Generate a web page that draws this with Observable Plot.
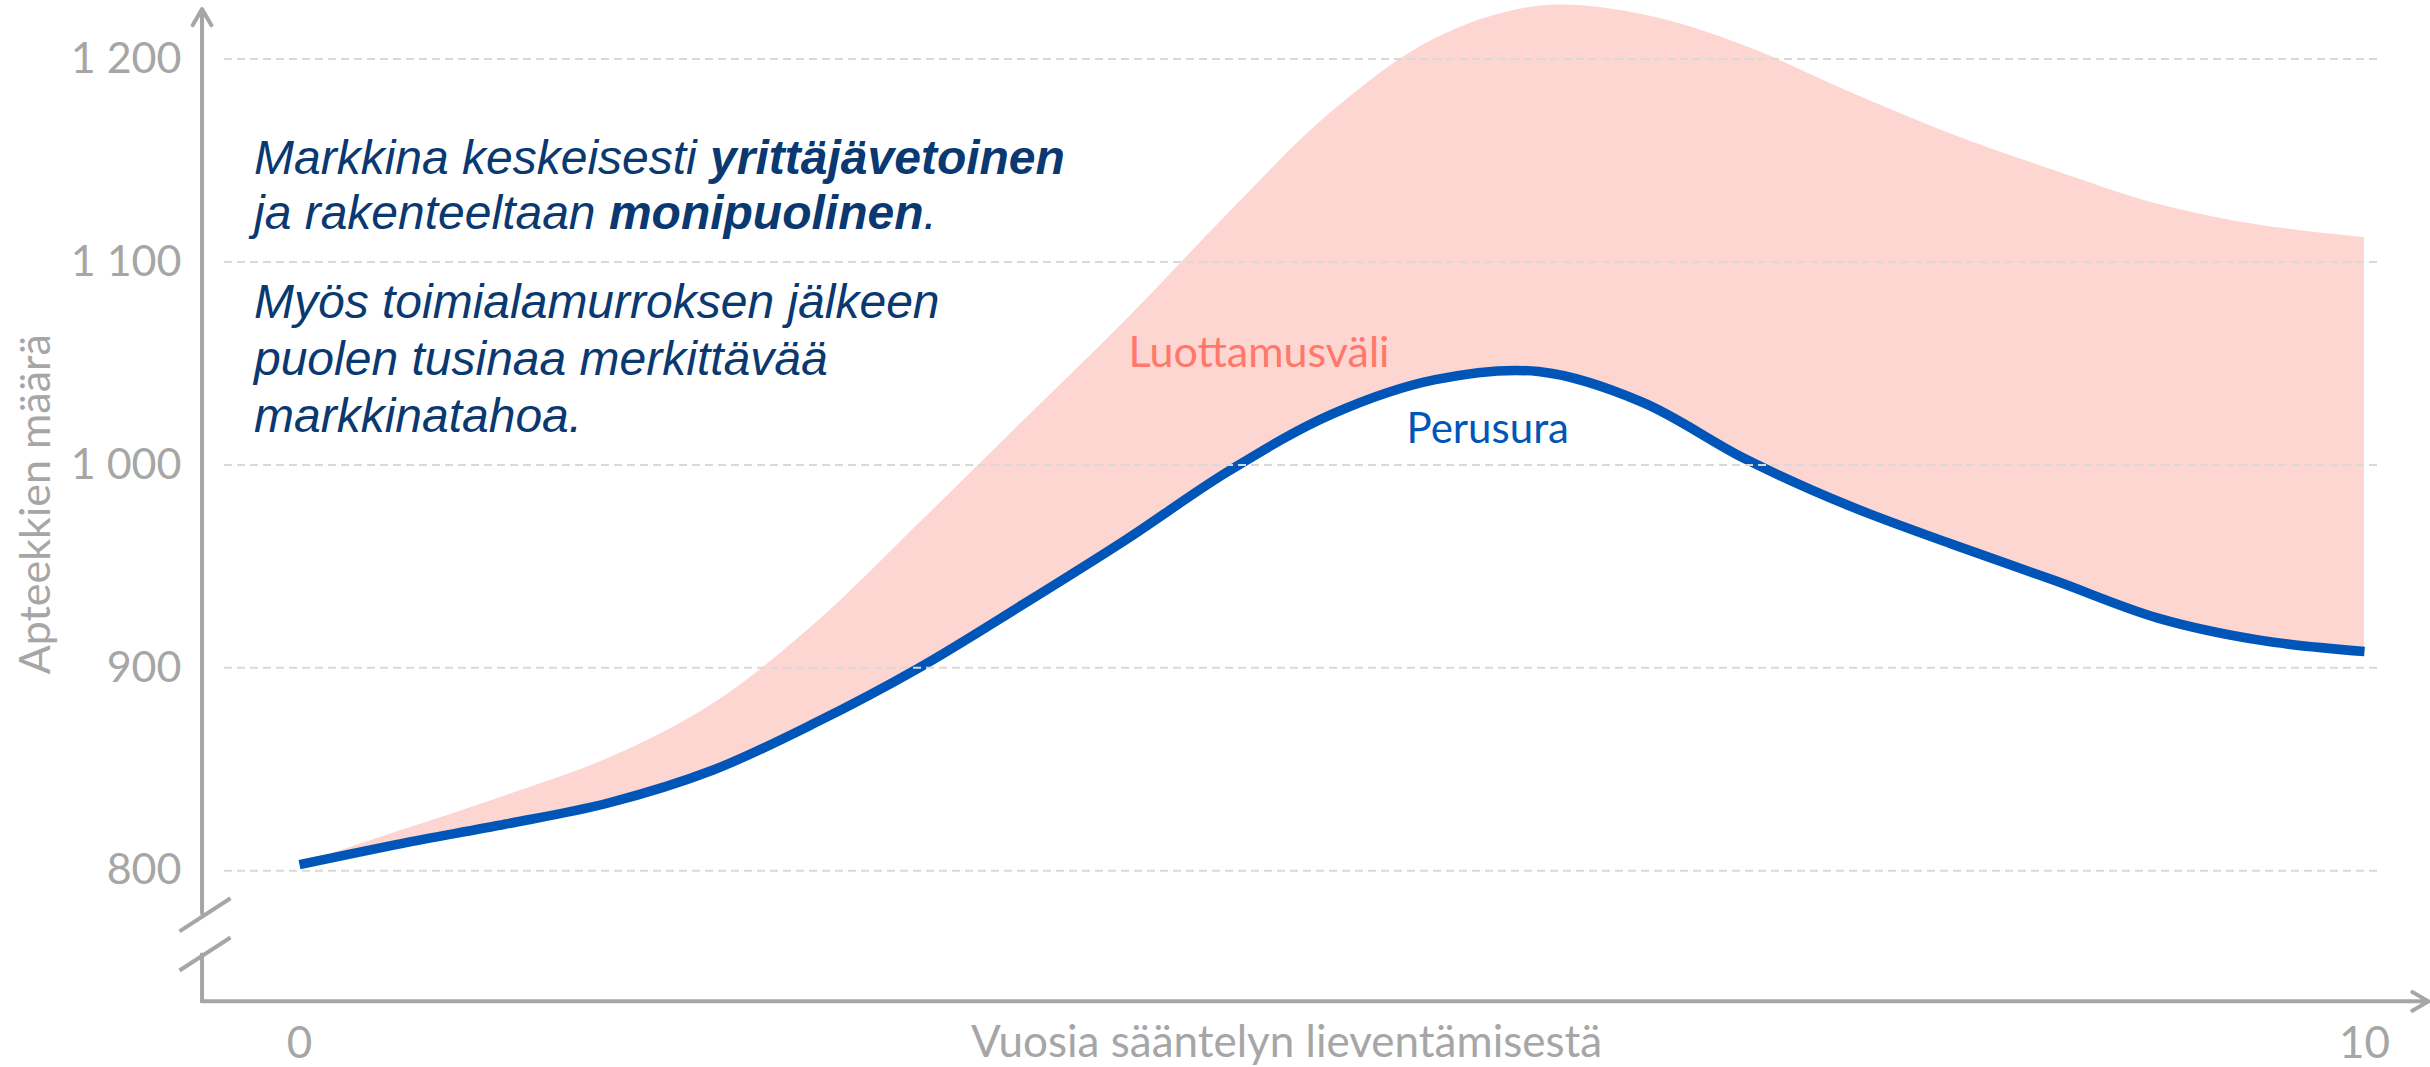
<!DOCTYPE html>
<html>
<head>
<meta charset="utf-8">
<script src="https://cdn.jsdelivr.net/npm/d3@7"></script>
<script src="https://cdn.jsdelivr.net/npm/@observablehq/plot@0.6"></script>
<style>
  html, body { margin: 0; padding: 0; background: #ffffff; }
  #chart svg { display: block; }
</style>
</head>
<body>
<div id="chart"></div>
<script>
// ---------- DATA ----------
const years = [0, 0.5, 1, 1.5, 2, 2.5, 3, 3.5, 4, 4.5, 5, 5.5, 6, 6.5, 7, 7.5, 8, 8.5, 9, 9.5, 10];
const perusura = [803, 813.5, 823, 833.5, 849.5, 873, 900, 931, 963, 997, 1025, 1042, 1046, 1031, 1003, 980, 961, 943, 924.5, 913.5, 908];
const luottamusYla = [803, 820, 837, 855.5, 882, 922, 971, 1021, 1071, 1124, 1174, 1210, 1226, 1222, 1206.5, 1184, 1163, 1145, 1128.5, 1118, 1112];

const yTicks = [800, 900, 1000, 1100, 1200];
const yTickLabels = ["800", "900", "1 000", "1 100", "1 200"];
const xTicks = [0, 10];
const xTickLabels = ["0", "10"];

const xTitle = "Vuosia sääntelyn lieventämisestä";
const yTitle = "Apteekkien määrä";
const bandLabel = "Luottamusväli";
const lineLabel = "Perusura";
const noteLines = [
  [["Markkina keskeisesti ", false], ["yrittäjävetoinen", true]],
  [["ja rakenteeltaan ", false], ["monipuolinen", true], [".", false]],
  [["Myös toimialamurroksen jälkeen", false]],
  [["puolen tusinaa merkittävää", false]],
  [["markkinatahoa.", false]]
];

// ---------- LAYOUT (in scale units) ----------
const L = {
  axisX: -0.472, axisBase: 735.6, yArrowTop: 1224.7, xArrowEnd: 10.31,
  breakTop: 779, breakBottom: 758.3,
  gridStart: -0.363, gridEnd: 10.073,
  bandX: 4.015, bandY: 1048.4,
  lineX: 5.361, lineY: 1010.6,
  xTitleX: 4.78, xTitleY: 708.0,
  yTitleX: -1.206, yTitleY: 980.6,
  noteX: -0.218, noteY: [1142.96, 1115.9, 1072.0, 1043.9, 1015.9]
};
const breakSlashes = [
  {x1: -0.581, y1: 770.1, x2: -0.334, y2: 786.4},
  {x1: -0.581, y1: 750.8, x2: -0.334, y2: 767.1}
];

// ---------- COLORS ----------
const axisGray = "#a6a6a6";
const gridGray = "#d9d9d9";
const pink = "#fdd5d1";
const blue = "#0056b8";
const salmon = "#ff786a";
const navy = "#0a3870";

const data = years.map((year, i) => ({year, base: perusura[i], upper: luottamusYla[i]}));

const chart = Plot.plot({
  width: 2430,
  height: 1067,
  marginLeft: 299, marginRight: 66, marginTop: 58.6, marginBottom: 196.8,
  x: {domain: [0, 10], range: [299, 2364]},
  y: {domain: [800, 1200], range: [870.2, 58.6]},
  style: {fontFamily: "Lato, sans-serif", background: "#ffffff", overflow: "visible"},
  marks: [
    Plot.areaY(data, {x: "year", y1: "base", y2: "upper", fill: pink, curve: "catmull-rom"}),
    Plot.line(data, {x: "year", y: "base", stroke: blue, strokeWidth: 9.5, curve: "catmull-rom", strokeLinecap: "butt", strokeLinejoin: "round"}),
    Plot.ruleY(yTicks, {x1: L.gridStart, x2: L.gridEnd, stroke: gridGray, strokeWidth: 2, strokeDasharray: "8,5"}),
    // axes lines
    Plot.arrow([0], {x1: L.axisX, y1: L.axisBase, x2: L.xArrowEnd, y2: L.axisBase, stroke: axisGray, strokeWidth: 4, headLength: 7}),
    Plot.arrow([0], {x1: L.axisX, y1: L.breakTop, x2: L.axisX, y2: L.yArrowTop, stroke: axisGray, strokeWidth: 4, headLength: 7}),
    Plot.ruleX([L.axisX], {y1: L.axisBase, y2: L.breakBottom, stroke: axisGray, strokeWidth: 4, strokeLinecap: "square"}),
    Plot.link(breakSlashes, {x1: "x1", y1: "y1", x2: "x2", y2: "y2", stroke: axisGray, strokeWidth: 4}),
    Plot.axisY({ticks: yTicks, tickFormat: d => yTickLabels[yTicks.indexOf(d)], tickSize: 0, tickPadding: 118, fontSize: 43, color: axisGray, label: null}),
    Plot.axisX({ticks: xTicks, tickFormat: d => xTickLabels[xTicks.indexOf(d)], tickSize: 0, tickPadding: 156, fontSize: 44, color: axisGray, label: null}),
    // labels
    Plot.text([bandLabel], {x: L.bandX, y: L.bandY, textAnchor: "start", lineAnchor: "bottom", fontSize: 43, fill: salmon}),
    Plot.text([lineLabel], {x: L.lineX, y: L.lineY, textAnchor: "start", lineAnchor: "bottom", fontSize: 42, fill: blue}),
    Plot.text([xTitle], {x: L.xTitleX, y: L.xTitleY, textAnchor: "middle", lineAnchor: "bottom", fontSize: 44, fill: axisGray}),
    Plot.text([yTitle], {x: L.yTitleX, y: L.yTitleY, rotate: -90, textAnchor: "middle", lineAnchor: "bottom", fontSize: 43, fill: axisGray})
  ]
});

// multi-style annotation block, positioned through the plot's scales
const sx = chart.scale("x"), sy = chart.scale("y");
const note = d3.select(chart).append("g")
  .attr("font-family", "'Liberation Sans', Arial, sans-serif")
  .attr("font-style", "italic")
  .attr("font-size", 48)
  .attr("text-anchor", "start")
  .attr("fill", navy)
  .style("white-space", "pre");
noteLines.forEach((segs, i) => {
  const t = note.append("text")
    .attr("text-anchor", "start")
    .attr("x", sx.apply(L.noteX))
    .attr("y", sy.apply(L.noteY[i]));
  segs.forEach(([s, bold]) => {
    t.append("tspan").attr("font-weight", bold ? "bold" : "normal").text(s);
  });
});

document.getElementById("chart").appendChild(chart);
</script>
</body>
</html>
